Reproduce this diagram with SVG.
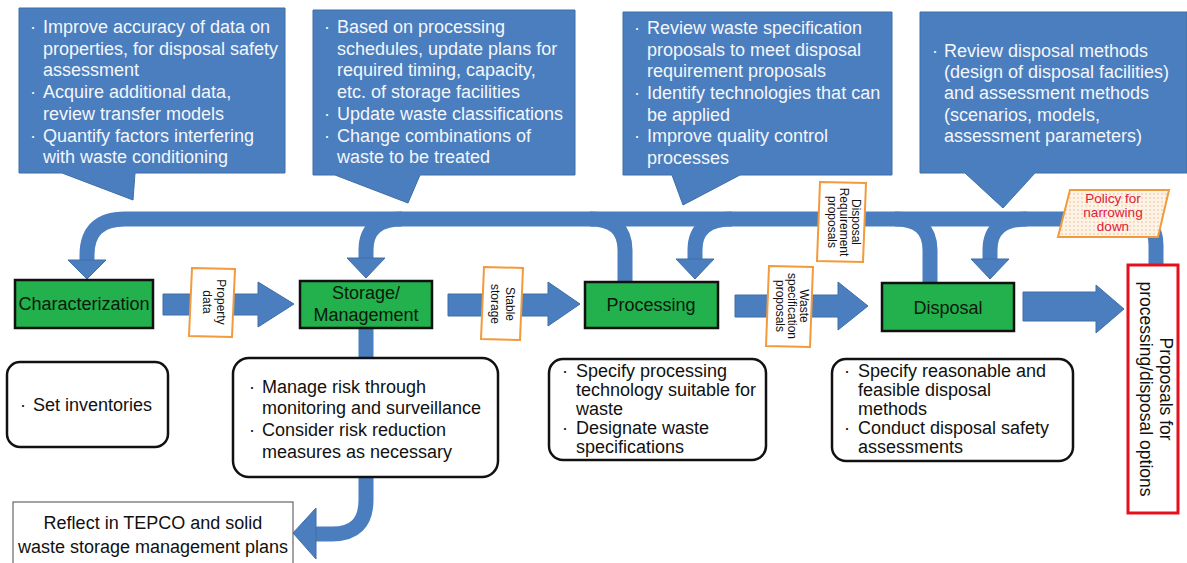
<svg xmlns="http://www.w3.org/2000/svg" width="1187" height="563" viewBox="0 0 1187 563">
  <defs>
    <style>
      .callout { fill: #4a7ebf; stroke: #3f6ea8; stroke-width: 1; }
      .ctext { font-family: "Liberation Sans", Arial, sans-serif; font-size: 18px; fill: #f4f6fa; }
      .proc { fill: #22b14c; stroke: #111; stroke-width: 2.5; }
      .ptext { font-family: "Liberation Sans", Arial, sans-serif; font-size: 18px; fill: #0b1a0b; text-anchor: middle; }
      .desc { fill: #fff; stroke: #111; stroke-width: 2.5; }
      .dtext { font-family: "Liberation Sans", Arial, sans-serif; font-size: 18px; fill: #111; }
      .flow { fill: none; stroke: #4a7ebf; stroke-width: 15; }
      .head { fill: #4a7ebf; stroke: #3f6ea8; stroke-width: 1; }
      .tag { fill: #fff; stroke: #f29a3c; stroke-width: 2; }
      .ttext { font-family: "Liberation Sans", Arial, sans-serif; font-size: 12px; fill: #111; text-anchor: middle; }
    </style>
    <pattern id="dots" width="4" height="4" patternUnits="userSpaceOnUse">
      <rect width="4" height="4" fill="#fdf3e6"/>
      <circle cx="2" cy="2" r="0.7" fill="#e9b27a"/>
    </pattern>
  </defs>
  <rect width="1187" height="563" fill="#fff"/>

  <!-- speech callouts above the chain -->
  <g id="callout-characterization">
    <path class="callout" d="M19 8 H285 V173 H135 L133 200 L62 173 H19 Z"/>
    <text class="ctext">
      <tspan x="30" y="33">·</tspan><tspan x="43" y="33">Improve accuracy of data on</tspan>
      <tspan x="43" y="55">properties, for disposal safety</tspan>
      <tspan x="43" y="76">assessment</tspan>
      <tspan x="30" y="98">·</tspan><tspan x="43" y="98">Acquire additional data,</tspan>
      <tspan x="43" y="120">review transfer models</tspan>
      <tspan x="30" y="142">·</tspan><tspan x="43" y="142">Quantify factors interfering</tspan>
      <tspan x="43" y="163">with waste conditioning</tspan>
    </text>
  </g>
  <g id="callout-storage">
    <path class="callout" d="M313 10 H575 V175 H420 L408 203 L335 175 H313 Z"/>
    <text class="ctext">
      <tspan x="324" y="33">·</tspan><tspan x="337" y="33">Based on processing</tspan>
      <tspan x="337" y="55">schedules, update plans for</tspan>
      <tspan x="337" y="76">required timing, capacity,</tspan>
      <tspan x="337" y="98">etc. of storage facilities</tspan>
      <tspan x="324" y="120">·</tspan><tspan x="337" y="120">Update waste classifications</tspan>
      <tspan x="324" y="142">·</tspan><tspan x="337" y="142">Change combinations of</tspan>
      <tspan x="337" y="163">waste to be treated</tspan>
    </text>
  </g>
  <g id="callout-processing">
    <path class="callout" d="M623 12 H892 V175 H740 L683 205 L672 175 H623 Z"/>
    <text class="ctext">
      <tspan x="634" y="34">·</tspan><tspan x="647" y="34">Review waste specification</tspan>
      <tspan x="647" y="56">proposals to meet disposal</tspan>
      <tspan x="647" y="77">requirement proposals</tspan>
      <tspan x="634" y="99">·</tspan><tspan x="647" y="99">Identify technologies that can</tspan>
      <tspan x="647" y="121">be applied</tspan>
      <tspan x="634" y="142">·</tspan><tspan x="647" y="142">Improve quality control</tspan>
      <tspan x="647" y="164">processes</tspan>
    </text>
  </g>
  <g id="callout-disposal">
    <path class="callout" d="M920 12 H1187 V173 H1035 L1003 208 L965 173 H920 Z"/>
    <text class="ctext">
      <tspan x="932" y="57">·</tspan><tspan x="944" y="57">Review disposal methods</tspan>
      <tspan x="944" y="78">(design of disposal facilities)</tspan>
      <tspan x="944" y="99">and assessment methods</tspan>
      <tspan x="944" y="121">(scenarios, models,</tspan>
      <tspan x="944" y="142">assessment parameters)</tspan>
    </text>
  </g>

  <!-- connectors: feedback loop, forward arrows, storage outflow -->
  <g id="connectors">
    <path class="flow" d="M1156 266 V245 Q1156 219 1130 219 H125 Q87 219 87 255 V262"/>
    <polygon class="head" points="68,260 106,260 87,279"/>
    <path class="flow" d="M402 219 Q366 219 366 250 V260"/>
    <polygon class="head" points="347,258 385,258 366,278"/>
    <path class="flow" d="M590 219 Q625 219 625 250 V283"/>
    <path class="flow" d="M732 219 Q695 219 695 250 V261"/>
    <polygon class="head" points="676,259 714,259 695,279"/>
    <path class="flow" d="M895 219 Q930 219 930 250 V284"/>
    <path class="flow" d="M1027 219 Q990 219 990 250 V261"/>
    <polygon class="head" points="971,259 1009,259 990,279"/>

    <polygon class="head" points="163,294 258,294 258,282 294,304 258,327 258,315 163,315"/>
    <polygon class="head" points="448,294 548,294 548,282 580,304 548,326 548,316 448,316"/>
    <polygon class="head" points="735,295 838,295 838,282 868,306 838,330 838,317 735,317"/>
    <polygon class="head" points="1023,292 1096,292 1096,285 1124,309 1096,333 1096,321 1023,321"/>

    <path class="flow" d="M366 328 V360" stroke-width="17"/>
    <path class="flow" d="M366 477 V500 Q366 534 332 534 H314" stroke-width="17"/>
    <polygon class="head" points="316,508 316,559 293,533"/>
  </g>

  <!-- labels carried on the arrows -->
  <g id="tag-property-data">
    <polygon class="tag" points="192,268 235,269 232,337 189,336"/>
    <text class="ttext" transform="translate(212,302) rotate(90)">
      <tspan x="0" y="-5">Property</tspan><tspan x="0" y="9">data</tspan>
    </text>
  </g>
  <g id="tag-stable-storage">
    <polygon class="tag" points="484,267 523,268 520,340 481,339"/>
    <text class="ttext" transform="translate(502,304) rotate(90)">
      <tspan x="0" y="-4">Stable</tspan><tspan x="0" y="11">storage</tspan>
    </text>
  </g>
  <g id="tag-waste-spec">
    <polygon class="tag" points="769,266 813,267 810,347 766,346"/>
    <text class="ttext" transform="translate(790,306) rotate(90)">
      <tspan x="0" y="-10">Waste</tspan><tspan x="0" y="2">specification</tspan><tspan x="0" y="14">proposals</tspan>
    </text>
  </g>
  <g id="tag-disposal-req">
    <polygon class="tag" points="820,182 866,183 863,262 817,261"/>
    <text class="ttext" transform="translate(842,222) rotate(90)">
      <tspan x="0" y="-10">Disposal</tspan><tspan x="0" y="2">Requirement</tspan><tspan x="0" y="14">proposals</tspan>
    </text>
  </g>
  <g id="tag-policy">
    <polygon points="1070,190 1169,190 1158,237 1058,237" fill="url(#dots)" stroke="#f29a3c" stroke-width="2"/>
    <text font-family="Liberation Sans, Arial, sans-serif" font-size="13.5" fill="#e0203a" text-anchor="middle">
      <tspan x="1113" y="203">Policy for</tspan><tspan x="1113" y="217">narrowing</tspan><tspan x="1113" y="231">down</tspan>
    </text>
  </g>

  <!-- process steps -->
  <g id="node-characterization">
    <rect class="proc" x="15" y="280" width="138" height="48"/>
    <text class="ptext" x="84" y="310">Characterization</text>
  </g>
  <g id="node-storage">
    <rect class="proc" x="300" y="281" width="132" height="47"/>
    <text class="ptext" font-size="17"><tspan x="366" y="299">Storage/</tspan><tspan x="366" y="321">Management</tspan></text>
  </g>
  <g id="node-processing">
    <rect class="proc" x="585" y="282" width="133" height="46"/>
    <text class="ptext" x="651" y="311">Processing</text>
  </g>
  <g id="node-disposal">
    <rect class="proc" x="882" y="283" width="132" height="48"/>
    <text class="ptext" x="948" y="314">Disposal</text>
  </g>
  <g id="node-proposals">
    <rect x="1128" y="265" width="50" height="248" fill="#fff" stroke="#e5101c" stroke-width="3"/>
    <text font-family="Liberation Sans, Arial, sans-serif" font-size="17.5" fill="#111" text-anchor="middle" transform="translate(1153,389) rotate(90)">
      <tspan x="0" y="-7">Proposals for</tspan><tspan x="0" y="13">processing/disposal options</tspan>
    </text>
  </g>

  <!-- activity descriptions -->
  <g id="desc-characterization">
    <rect class="desc" x="7" y="362" width="161" height="85" rx="13"/>
    <text class="dtext"><tspan x="20" y="411">·</tspan><tspan x="33" y="411">Set inventories</tspan></text>
  </g>
  <g id="desc-storage">
    <rect class="desc" x="233" y="358" width="265" height="119" rx="16"/>
    <text class="dtext">
      <tspan x="249" y="393">·</tspan><tspan x="262" y="393">Manage risk through</tspan>
      <tspan x="262" y="414">monitoring and surveillance</tspan>
      <tspan x="249" y="436">·</tspan><tspan x="262" y="436">Consider risk reduction</tspan>
      <tspan x="262" y="458">measures as necessary</tspan>
    </text>
  </g>
  <g id="desc-processing">
    <rect class="desc" x="549" y="359" width="217" height="101" rx="14"/>
    <text class="dtext" font-size="16.5">
      <tspan x="562" y="377">·</tspan><tspan x="576" y="377">Specify processing</tspan>
      <tspan x="576" y="396">technology suitable for</tspan>
      <tspan x="576" y="415">waste</tspan>
      <tspan x="562" y="434">·</tspan><tspan x="576" y="434">Designate waste</tspan>
      <tspan x="576" y="453">specifications</tspan>
    </text>
  </g>
  <g id="desc-disposal">
    <rect class="desc" x="832" y="359" width="241" height="102" rx="14"/>
    <text class="dtext" font-size="16.5">
      <tspan x="844" y="377">·</tspan><tspan x="858" y="377">Specify reasonable and</tspan>
      <tspan x="858" y="396">feasible disposal</tspan>
      <tspan x="858" y="415">methods</tspan>
      <tspan x="844" y="434">·</tspan><tspan x="858" y="434">Conduct disposal safety</tspan>
      <tspan x="858" y="453">assessments</tspan>
    </text>
  </g>
  <g id="node-reflect">
    <rect x="13" y="502" width="280" height="70" fill="#fff" stroke="#666" stroke-width="1.2"/>
    <text class="dtext" text-anchor="middle"><tspan x="153" y="529">Reflect in TEPCO and solid</tspan><tspan x="153" y="553">waste storage management plans</tspan></text>
  </g>
</svg>
